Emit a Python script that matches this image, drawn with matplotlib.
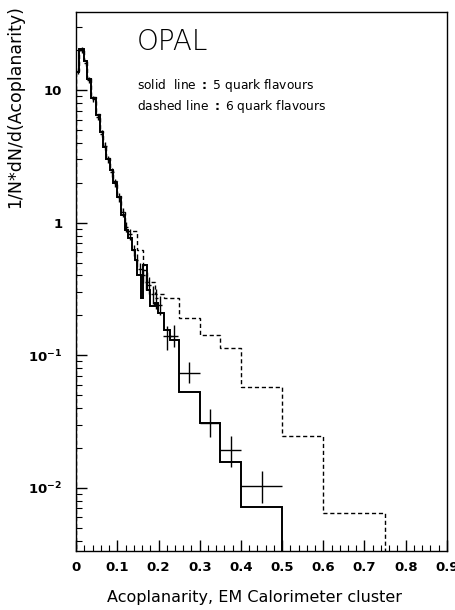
import numpy as np
import matplotlib
matplotlib.use("Agg")
import matplotlib.pyplot as plt
from matplotlib.ticker import LogLocator, NullFormatter, MultipleLocator

# 5 quark flavours (solid histogram)
solid_edges = [0.0, 0.007, 0.019, 0.026, 0.036, 0.049, 0.058, 0.066, 0.073, 0.083,
               0.090, 0.100, 0.109, 0.119, 0.126, 0.136, 0.143, 0.148, 0.158, 0.163,
               0.172, 0.180, 0.192, 0.199, 0.214, 0.228, 0.25, 0.30, 0.35, 0.40, 0.50]
solid_vals = [13.7, 20.4, 16.5, 12.2, 8.7, 6.5, 4.8, 3.7, 3.0, 2.5,
              2.0, 1.56, 1.15, 0.88, 0.77, 0.62, 0.52, 0.40, 0.27, 0.48,
              0.31, 0.235, 0.25, 0.21, 0.156, 0.13, 0.053, 0.031, 0.0158, 0.0072]

# 6 quark flavours (dashed histogram)
dashed_edges = [0.0, 0.007, 0.019, 0.026, 0.036, 0.049, 0.058, 0.066, 0.073, 0.083,
                0.090, 0.100, 0.109, 0.119, 0.148, 0.163, 0.172, 0.192, 0.214,
                0.25, 0.30, 0.35, 0.40, 0.50, 0.60, 0.75]
dashed_vals = [13.9, 20.0, 16.8, 12.4, 8.9, 6.6, 4.9, 3.8, 3.1, 2.5,
               2.05, 1.6, 1.2, 0.86, 0.62, 0.44, 0.36, 0.29, 0.27,
               0.19, 0.143, 0.114, 0.058, 0.0247, 0.0065]

# data points
pts_x = [0.004, 0.013, 0.023, 0.031, 0.042, 0.053, 0.062, 0.070, 0.078, 0.087,
         0.095, 0.104, 0.113, 0.122, 0.131, 0.140, 0.147, 0.155, 0.162, 0.170,
         0.177, 0.186, 0.195, 0.204, 0.221, 0.238, 0.275, 0.325, 0.375, 0.45]
pts_y = [14.0, 20.0, 16.0, 12.0, 8.6, 6.3, 4.7, 3.8, 3.0, 2.4,
         2.0, 1.55, 1.2, 0.93, 0.82, 0.62, 0.52, 0.45, 0.40, 0.36,
         0.34, 0.29, 0.27, 0.24, 0.14, 0.14, 0.074, 0.031, 0.0194, 0.0104]
pts_xerr = [0.003, 0.004, 0.004, 0.004, 0.004, 0.004, 0.004, 0.004, 0.004, 0.004,
            0.004, 0.004, 0.004, 0.004, 0.004, 0.004, 0.004, 0.004, 0.004, 0.004,
            0.004, 0.004, 0.004, 0.005, 0.011, 0.010, 0.025, 0.025, 0.025, 0.05]
pts_yerr_lo = [0.8, 1.0, 0.8, 0.6, 0.45, 0.35, 0.3, 0.25, 0.2, 0.17,
               0.15, 0.12, 0.1, 0.08, 0.08, 0.06, 0.06, 0.05, 0.05, 0.05,
               0.05, 0.045, 0.045, 0.04, 0.03, 0.025, 0.012, 0.007, 0.005, 0.0027]
pts_yerr_hi = [0.8, 1.0, 0.8, 0.6, 0.45, 0.35, 0.3, 0.25, 0.2, 0.17,
               0.15, 0.12, 0.1, 0.08, 0.08, 0.06, 0.06, 0.05, 0.05, 0.05,
               0.05, 0.045, 0.045, 0.04, 0.025, 0.03, 0.015, 0.008, 0.005, 0.003]

fig = plt.figure(figsize=(4.56, 6.10), dpi=100)
ax = fig.add_axes([0.167, 0.097, 0.813, 0.883])

ax.stairs(solid_vals, solid_edges, baseline=1e-4, color="black", lw=1.4)
ax.stairs(dashed_vals, dashed_edges, baseline=1e-4, color="black", lw=1.0,
          linestyle=(0, (3, 2)))
ax.errorbar(pts_x, pts_y, xerr=pts_xerr, yerr=[pts_yerr_lo, pts_yerr_hi],
            fmt="none", ecolor="black", elinewidth=1.0, capsize=0)

ax.set_yscale("log")
ax.set_xlim(0, 0.9)
ax.set_ylim(0.00335, 38.7)

ax.set_xticks([0, 0.1, 0.2, 0.3, 0.4, 0.5, 0.6, 0.7, 0.8, 0.9])
ax.set_xticklabels(["0", "0.1", "0.2", "0.3", "0.4", "0.5", "0.6", "0.7", "0.8", "0.9"],
                   fontweight="bold", fontsize=9.5)
ax.xaxis.set_minor_locator(MultipleLocator(0.02))
ax.set_yticks([0.01, 0.1, 1, 10])
ax.set_yticklabels(["$\\mathbf{10^{-2}}$", "$\\mathbf{10^{-1}}$", "1", "10"],
                   fontsize=9.5, fontweight="bold")
ax.yaxis.set_minor_locator(LogLocator(base=10, subs=np.arange(2, 10)))
ax.yaxis.set_minor_formatter(NullFormatter())

ax.tick_params(which="both", direction="in", top=False, right=False)
ax.tick_params(which="major", length=8, width=1.0)
ax.tick_params(which="minor", length=4, width=0.8)
ax.tick_params(axis="y", pad=10)
ax.tick_params(axis="x", pad=7)
for s in ax.spines.values():
    s.set_linewidth(1.0)

ax.text(0.164, 0.944, "OPAL", transform=ax.transAxes, fontsize=20, va="center",
        fontweight="light")
ax.text(0.164, 0.863, "solid  line $\\mathbf{:}$ 5 quark flavours", transform=ax.transAxes,
        fontsize=8.8, va="center")
ax.text(0.164, 0.824, "dashed line $\\mathbf{:}$ 6 quark flavours", transform=ax.transAxes,
        fontsize=8.8, va="center")

fig.text(0.033, 0.825, "1/N*dN/d(Acoplanarity)", rotation=90, ha="center", va="center",
         fontsize=12.5)
fig.text(0.559, 0.021, "Acoplanarity, EM Calorimeter cluster", ha="center", va="center",
         fontsize=11.5)

fig.savefig("out.png", dpi=100)
